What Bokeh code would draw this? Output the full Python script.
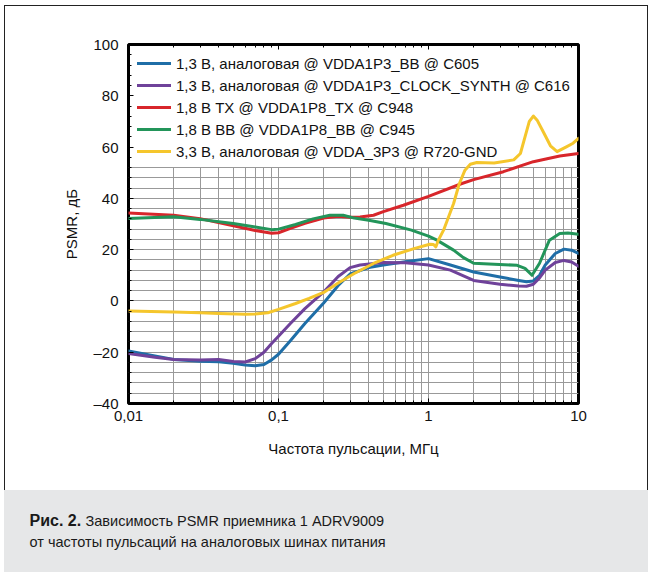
from bokeh.plotting import figure
from bokeh.models import (LogAxis, SingleIntervalTicker, LogTicker,
                          CustomJSTickFormatter, Title, Range1d, Legend, LegendItem)
from bokeh.embed import file_html
from bokeh.resources import INLINE

# ---------------- data ----------------
series_names = [
    "1,3 В, аналоговая @ VDDA1P3_BB @ C605",
    "1,3 В, аналоговая @ VDDA1P3_CLOCK_SYNTH @ C616",
    "1,8 В TX @ VDDA1P8_TX @ C948",
    "1,8 В BB @ VDDA1P8_BB @ C945",
    "3,3 В, аналоговая @ VDDA_3P3 @ R720-GND",
]

blue_f = [0.01, 0.015, 0.02, 0.03, 0.04, 0.05, 0.06, 0.07, 0.08, 0.09, 0.1, 0.12, 0.15,
          0.2, 0.25, 0.3, 0.4, 0.5, 0.7, 1.0, 1.4, 2.0, 3.0, 4.0, 4.5, 5.0, 5.5, 6.0, 7.0, 8.0, 9.0, 10]
blue_v = [-19.5, -21.5, -22.8, -23.5, -23.7, -24.3, -25.0, -25.3, -24.8, -23.0, -20.8, -15.5, -8.8,
          -0.8, 6.0, 10.5, 13.0, 14.0, 15.3, 16.5, 14.0, 11.3, 9.3, 8.0, 7.5, 7.8, 10.0, 14.0, 18.5, 20.2, 19.8, 18.5]

purple_f = [0.01, 0.015, 0.02, 0.03, 0.04, 0.05, 0.06, 0.07, 0.08, 0.09, 0.1, 0.12, 0.15,
            0.2, 0.25, 0.3, 0.35, 0.5, 0.7, 1.0, 1.4, 2.0, 3.0, 4.0, 4.5, 5.0, 5.5, 6.0, 7.0, 8.0, 9.0, 10]
purple_v = [-20.5, -22.0, -22.8, -23.0, -22.8, -23.6, -23.8, -22.5, -20.0, -16.6, -13.8, -8.8, -3.0,
            3.5, 9.5, 13.0, 14.0, 15.0, 14.9, 14.0, 12.0, 8.0, 6.5, 5.8, 5.7, 6.5, 9.0, 12.0, 15.0, 15.8, 15.2, 13.5]

red_f = [0.01, 0.02, 0.03, 0.05, 0.07, 0.09, 0.1, 0.12, 0.15, 0.2, 0.25, 0.3, 0.35, 0.43,
         0.5, 0.68, 1.0, 1.67, 2.0, 3.16, 5.0, 7.5, 10]
red_v = [34.3, 33.4, 32.1, 29.3, 27.5, 26.4, 26.6, 28.3, 30.3, 32.3, 33.0, 32.6, 32.7, 33.4,
         34.8, 37.3, 40.8, 45.8, 47.3, 50.4, 54.3, 56.5, 57.5]

green_f = [0.01, 0.02, 0.03, 0.05, 0.07, 0.09, 0.1, 0.13, 0.17, 0.22, 0.27, 0.32, 0.4, 0.52,
           0.77, 1.0, 1.13, 1.47, 1.7, 2.0, 2.74, 3.9, 4.4, 4.9, 5.5, 6.4, 7.5, 8.5, 10]
green_v = [32.1, 32.8, 31.8, 30.2, 28.8, 27.8, 28.0, 29.8, 32.0, 33.4, 33.4, 32.3, 31.5, 30.2,
           27.6, 25.3, 23.8, 19.8, 17.0, 14.7, 14.3, 13.9, 12.7, 10.0, 14.7, 23.7, 26.3, 26.5, 26.0]

yellow_f = [0.01, 0.02, 0.03, 0.04, 0.06, 0.07, 0.085, 0.1, 0.13, 0.16, 0.2, 0.25, 0.32, 0.43,
            0.58, 0.8, 1.02, 1.08, 1.12, 1.16, 1.26, 1.47, 1.6, 1.75, 1.9, 2.1, 2.74, 3.7, 4.1, 4.4,
            4.7, 5.0, 5.3, 5.9, 6.5, 7.2, 8.3, 9.2, 10]
yellow_v = [-3.9, -4.3, -4.6, -4.9, -5.2, -5.1, -4.6, -3.3, -1.0, 1.0, 3.3, 7.0, 10.7, 14.6,
            17.8, 20.4, 22.1, 22.0, 21.1, 23.5, 27.6, 38.0, 45.5, 51.0, 53.3, 54.0, 53.8, 55.0, 57.5, 64.0,
            70.0, 72.1, 70.5, 65.3, 60.5, 58.2, 60.1, 61.5, 63.4]

colors = ["#1f6ea7", "#6f429a", "#d8262b", "#23955a", "#f5c62c"]

x_label = "Частота пульсации, МГц"
y_label = "PSMR, дБ"
caption_bold = "Рис. 2."
caption_rest = "Зависимость PSMR приемника 1  ADRV9009"
caption_line2 = "от частоты пульсаций на аналоговых шинах питания"

FONT = "Liberation Sans"
GRID = "#999999"

# ---------------- layout geometry (pixels) ----------------
W, H = 652, 575
FL, FR, FT, FB = 128, 578, 44, 403          # plot frame edges

# outer thin frame + grey caption panel painted behind a transparent canvas
page_css = {
    "background-color": "white",
    "background-image": ("linear-gradient(#222,#222), linear-gradient(#222,#222), "
                         "linear-gradient(#222,#222), linear-gradient(#e6e7e8,#e6e7e8)"),
    "background-size": "1px 485px, 1px 485px, 644px 1px, 644px 82px",
    "background-position": "4px 5px, 647px 5px, 4px 5px, 4px 490px",
    "background-repeat": "no-repeat",
}

p = figure(width=W, height=H, x_axis_type="log",
           x_range=Range1d(0.01, 10), y_range=Range1d(-40, 100),
           output_backend="svg", toolbar_location=None, title=None,
           min_border_left=FL, min_border_right=W - FR, min_border_top=FT, min_border_bottom=H - FB,
           x_axis_label=x_label, y_axis_label=y_label, styles=page_css)

p.background_fill_color = "white"
p.border_fill_color = None
p.outline_line_color = "black"
p.outline_line_width = 3

# axes
xa = p.xaxis[0]
ya = p.yaxis[0]
xa.ticker = LogTicker(num_minor_ticks=10)
ya.ticker = SingleIntervalTicker(interval=20, num_minor_ticks=5)
xa.formatter = CustomJSTickFormatter(code="return String(Number(tick.toPrecision(6))).replace('.', ',');")
ya.formatter = CustomJSTickFormatter(code="return tick < 0 ? '\\u2013' + Math.abs(tick) : String(tick);")
for ax in (xa, ya):
    ax.axis_line_color = None
    ax.major_tick_in = 5
    ax.major_tick_out = 0
    ax.minor_tick_in = 3
    ax.minor_tick_out = 0
    ax.major_label_text_font = FONT
    ax.major_label_text_font_size = "15px"
    ax.major_label_text_color = "#111111"
    ax.axis_label_text_font = FONT
    ax.axis_label_text_font_size = "15px"
    ax.axis_label_text_font_style = "normal"
    ax.axis_label_text_color = "#111111"
ya.major_label_standoff = 10
ya.axis_label_standoff = 10
xa.major_label_standoff = 7
xa.axis_label_standoff = 16

top_ax = LogAxis(ticker=LogTicker(num_minor_ticks=10), axis_line_color=None,
                 major_tick_in=5, major_tick_out=0, minor_tick_in=3, minor_tick_out=0,
                 major_label_text_color=None)
p.add_layout(top_ax, "above")

# grid (hidden behind the legend area, as in the original)
p.xgrid.ticker = LogTicker(num_minor_ticks=10)
p.ygrid.ticker = SingleIntervalTicker(interval=20, num_minor_ticks=5)
for g in (p.xgrid[0], p.ygrid[0]):
    g.grid_line_color = GRID
    g.grid_line_width = 1
    g.minor_grid_line_color = GRID
    g.minor_grid_line_width = 1
p.ygrid[0].bounds = (-40, 52)
p.xgrid[0].cross_bounds = (-40, 52)

# curves
data = [(blue_f, blue_v), (purple_f, purple_v), (red_f, red_v), (green_f, green_v), (yellow_f, yellow_v)]
items = []
for (fx, vy), c, name in zip(data, colors, series_names):
    r = p.line(fx, vy, line_color=c, line_width=3, line_join="round", line_cap="round")
    items.append(LegendItem(label=name, renderers=[r]))

legend = Legend(items=items, location="top_left", margin=0, padding=9, spacing=2,
                glyph_width=34, glyph_height=20, label_height=20, label_standoff=5,
                label_text_font=FONT, label_text_font_size="15px", label_text_color="#111111",
                background_fill_alpha=0, border_line_alpha=0)
p.add_layout(legend, "center")

# caption: titles stacked in the panel below the x axis (on the grey band)
CAP = dict(text_font=FONT, text_color="#1a1a1a", align="left", vertical_align="top")
p.add_layout(Title(text=" ", text_font_size="15px", text_font_style="normal",
                   offset=0, standoff=44, **CAP), "below")                       # spacer
p.add_layout(Title(text=caption_bold, text_font_size="16px", text_font_style="bold",
                   offset=29 - FL, standoff=-21, **CAP), "below")
p.add_layout(Title(text=caption_rest, text_font_size="14.5px", text_font_style="normal",
                   offset=85 - FL, standoff=-19, **CAP), "below")
p.add_layout(Title(text=caption_line2, text_font_size="14.5px", text_font_style="normal",
                   offset=29 - FL, standoff=23, **CAP), "below")

open("out.html", "w").write(file_html(p, INLINE))
